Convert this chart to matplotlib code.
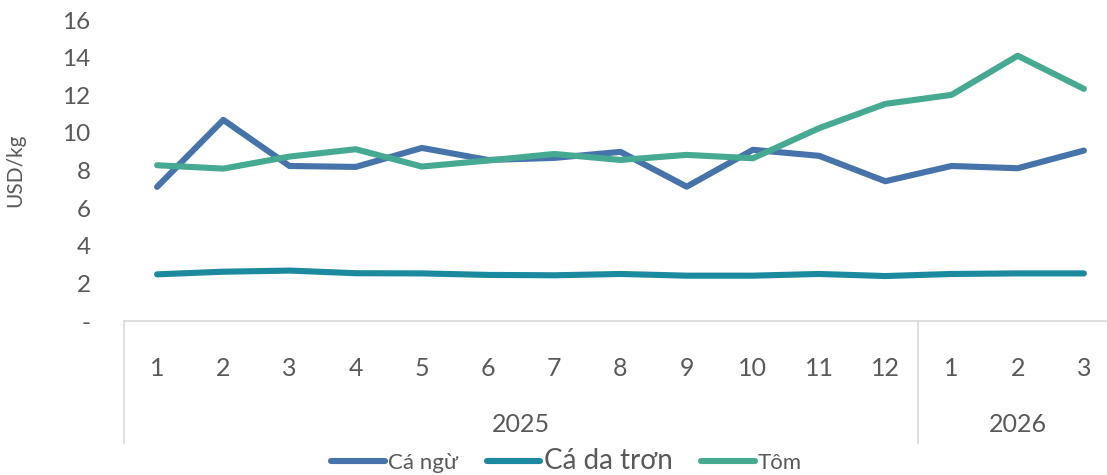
import matplotlib.pyplot as plt
import matplotlib.transforms as mtransforms

plt.rcParams['font.family'] = ['Lato', 'DejaVu Sans']

# ── Data ─────────────────────────────────────────────────────────────────────
months = ['1', '2', '3', '4', '5', '6', '7', '8', '9', '10', '11', '12', '1', '2', '3']
years = ['2025', '2026']
year_counts = [12, 3]

ca_ngu = [7.13, 10.69, 8.24, 8.19, 9.20, 8.56, 8.67, 8.99, 7.14, 9.10, 8.78, 7.43, 8.24, 8.12, 9.06]
ca_da_tron = [2.48, 2.62, 2.68, 2.54, 2.53, 2.45, 2.43, 2.50, 2.41, 2.41, 2.50, 2.39, 2.50, 2.53, 2.53]
tom = [8.28, 8.10, 8.74, 9.13, 8.21, 8.53, 8.88, 8.56, 8.83, 8.65, 10.25, 11.54, 12.02, 14.10, 12.34]
# ─────────────────────────────────────────────────────────────────────────────

grey = '#595959'
fig = plt.figure(figsize=(11.07, 4.75), dpi=100)
ax = fig.add_axes([124 / 1107, 154 / 475, (1107 - 124) / 1107, 301 / 475])

x = list(range(1, len(months) + 1))
lw = 4.4
ax.plot(x, ca_ngu, color='#4674AA', lw=lw, solid_capstyle='round', label='Cá ngừ')
ax.plot(x, ca_da_tron, color='#1B8A9F', lw=lw, solid_capstyle='round', label='Cá da trơn')
ax.plot(x, tom, color='#46A992', lw=lw, solid_capstyle='round', label='Tôm')

ax.set_xlim(0.5, 0.5 + (1107 - 124) / 66.2)
ax.set_ylim(0, 16)
ax.set_yticks(range(0, 17, 2))
ax.set_yticklabels(['-'] + [str(v) for v in range(2, 17, 2)])
ax.set_xticks(x)
ax.set_xticklabels(months)
ax.tick_params(axis='y', length=0, pad=24, labelsize=17.5, labelcolor=grey)
ax.tick_params(axis='x', length=0, pad=26, labelsize=18, labelcolor=grey)

for side in ['top', 'right', 'left']:
    ax.spines[side].set_visible(False)
ax.spines['bottom'].set_color('#D9D9D9')
ax.spines['bottom'].set_linewidth(1.2)

ax.set_ylabel('USD/kg', fontsize=15, color=grey)
ax.yaxis.set_label_coords(-0.1, 0.5)

# category group separators and year labels
trans = mtransforms.blended_transform_factory(ax.transData, ax.transAxes)
start = 0.5
for yr, n in zip(years, year_counts):
    ax.plot([start, start], [0, -0.405], transform=trans, color='#D9D9D9',
            lw=1.2, clip_on=False)
    ax.text(start + n / 2, -0.345, yr, transform=trans, ha='center', va='center',
            fontsize=18, color=grey)
    start += n

leg = fig.legend(loc='center', bbox_to_anchor=(0.512, 0.03), ncol=3, frameon=False,
                 handlelength=2.4, handletextpad=0.15, columnspacing=1.3,
                 fontsize=16, borderpad=0.1)
for t in leg.get_texts():
    t.set_color(grey)
leg.get_texts()[1].set_fontsize(20)

fig.savefig('out.png', dpi=100)
